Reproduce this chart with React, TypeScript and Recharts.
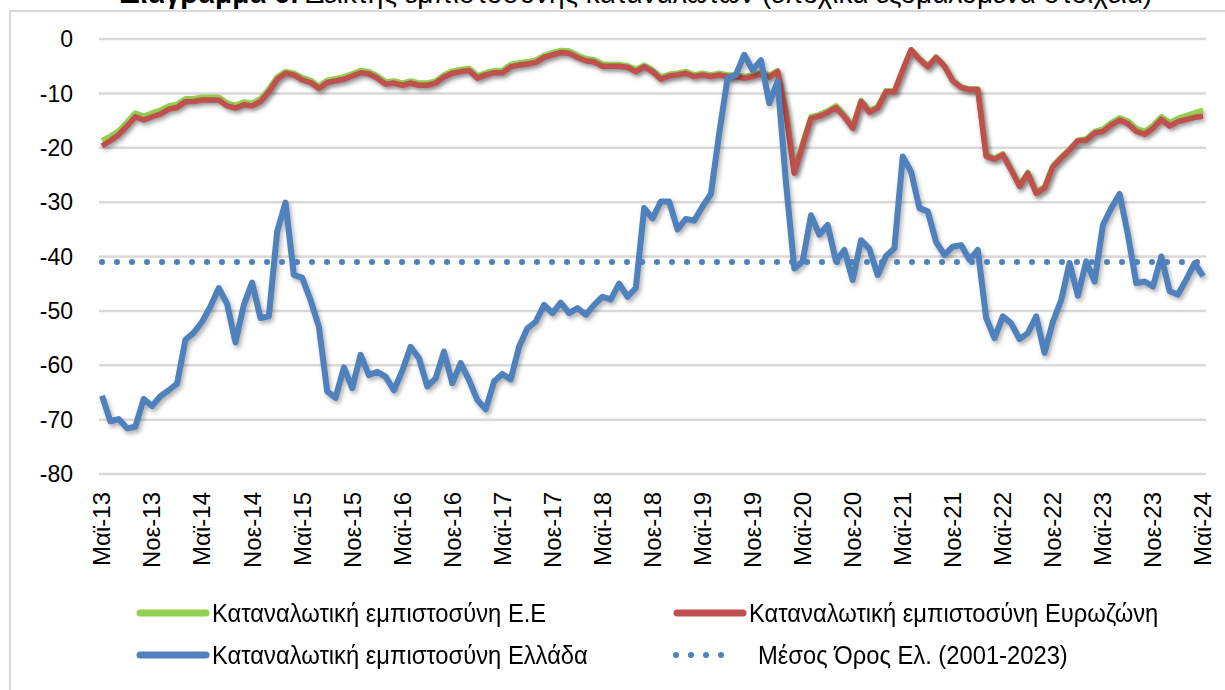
import { LineChart, Line, XAxis, YAxis, CartesianGrid, ReferenceLine } from "recharts"

// Greek month abbreviations, series starts May 2013 (index 4)
const MONTH_NAMES = ["Ιαν", "Φεβ", "Μαρ", "Απρ", "Μαϊ", "Ιουν", "Ιουλ", "Αυγ", "Σεπ", "Οκτ", "Νοε", "Δεκ"]
const START_MONTH = 4
const START_YEAR = 13

// Καταναλωτική εμπιστοσύνη Ε.Ε
const EU = [
  -18.7, -17.9, -16.9, -15.3, -13.6, -14.2, -13.6, -13.1, -12.3, -12.0,
  -11.0, -11.0, -10.7, -10.7, -10.7, -11.8, -12.2, -11.6, -11.8, -11.0,
  -9.2, -7.0, -6.0, -6.3, -7.1, -7.6, -8.7, -7.6, -7.3, -7.0,
  -6.4, -5.8, -6.0, -6.8, -7.9, -7.7, -8.1, -7.7, -8.1, -8.1,
  -7.7, -6.6, -5.9, -5.6, -5.4, -6.8, -6.2, -5.8, -5.8, -4.7,
  -4.4, -4.2, -3.9, -3.0, -2.5, -2.1, -2.2, -3.0, -3.6, -3.8,
  -4.6, -4.7, -4.7, -4.9, -5.6, -4.8, -5.7, -7.0, -6.5, -6.3,
  -6.0, -6.6, -6.3, -6.6, -6.3, -6.6, -6.6, -6.9, -6.6, -6.1,
  -6.7, -5.8, -13.2, -24.3, -19.2, -14.3, -13.9, -13.2, -12.3, -14.0,
  -16.2, -11.3, -13.2, -12.4, -9.5, -9.5, -5.6, -2.0, -3.6, -5.0,
  -3.3, -4.9, -7.6, -8.8, -9.2, -9.2, -21.3, -21.9, -21.1, -23.9,
  -26.9, -24.5, -28.2, -27.2, -23.3, -21.7, -20.3, -18.6, -18.4, -17.0,
  -16.6, -15.4, -14.5, -15.1, -16.5, -17.0, -15.9, -14.3, -15.4, -14.6,
  -14.1, -13.6, -13.1,
]

// Καταναλωτική εμπιστοσύνη Ευρωζώνη
const EUROZONE = [
  -19.7, -18.7, -17.6, -16.0, -14.3, -14.9, -14.3, -13.8, -12.9, -12.6,
  -11.5, -11.5, -11.2, -11.2, -11.2, -12.3, -12.7, -12.1, -12.3, -11.5,
  -9.7, -7.4, -6.3, -6.6, -7.5, -8.0, -9.1, -8.0, -7.7, -7.4,
  -6.8, -6.2, -6.4, -7.2, -8.3, -8.1, -8.5, -8.1, -8.5, -8.5,
  -8.1, -7.0, -6.3, -6.0, -5.8, -7.2, -6.6, -6.2, -6.2, -5.1,
  -4.8, -4.6, -4.3, -3.4, -2.9, -2.5, -2.6, -3.4, -4.0, -4.2,
  -5.0, -5.0, -5.0, -5.2, -6.0, -5.1, -6.0, -7.4, -6.8, -6.6,
  -6.3, -6.9, -6.6, -6.9, -6.6, -6.9, -6.9, -7.2, -6.9, -6.4,
  -7.0, -6.0, -13.7, -24.7, -19.5, -14.6, -14.2, -13.5, -12.6, -14.3,
  -16.4, -11.5, -13.5, -12.7, -9.7, -9.7, -5.7, -2.0, -3.7, -5.1,
  -3.4, -5.0, -7.7, -8.9, -9.3, -9.3, -21.6, -22.1, -21.3, -24.1,
  -27.1, -24.7, -28.4, -27.4, -23.5, -21.9, -20.4, -18.7, -18.6, -17.3,
  -17.0, -15.8, -14.9, -15.6, -17.0, -17.5, -16.4, -14.8, -16.0, -15.2,
  -14.8, -14.4, -14.2,
]

// Καταναλωτική εμπιστοσύνη Ελλάδα
const GREECE = [
  -65.6, -70.3, -69.9, -71.6, -71.3, -66.2, -67.5, -65.7, -64.6, -63.4,
  -55.3, -54.0, -52.0, -49.2, -45.8, -48.7, -55.8, -48.9, -44.8, -51.3,
  -51.0, -35.4, -30.1, -43.4, -43.9, -48.0, -52.9, -64.8, -66.0, -60.4,
  -64.2, -58.1, -61.8, -61.2, -62.1, -64.6, -61.0, -56.6, -58.7, -63.9,
  -62.4, -57.5, -63.3, -59.6, -62.7, -66.4, -68.1, -63.0, -61.6, -62.6,
  -56.6, -53.2, -52.0, -48.9, -50.4, -48.5, -50.4, -49.5, -50.7, -48.9,
  -47.4, -47.9, -45.0, -47.4, -45.8, -31.1, -33.0, -29.9, -29.9, -35.0,
  -33.1, -33.4, -30.8, -28.5, -17.3, -7.2, -6.6, -2.9, -5.7, -3.9,
  -11.8, -7.8, -26.4, -42.2, -40.9, -32.4, -36.0, -34.2, -40.9, -38.8,
  -44.3, -37.0, -38.6, -43.4, -39.9, -38.5, -21.6, -24.4, -31.1, -31.7,
  -37.3, -39.7, -38.2, -37.9, -40.6, -38.8, -51.3, -55.0, -51.0, -52.3,
  -55.2, -54.1, -51.0, -57.7, -52.0, -48.0, -41.2, -47.2, -40.9, -44.6,
  -34.2, -31.1, -28.5, -36.0, -44.9, -44.6, -45.5, -40.0, -46.4, -47.0,
  -44.2, -41.2, -43.6,
]

// Μέσος Όρος Ελ. (2001-2023)
const GREECE_AVG = -41

const Y_TICKS = [0, -10, -20, -30, -40, -50, -60, -70, -80]

const monthLabel = (i: number) => {
  const m = START_MONTH + i
  return `${MONTH_NAMES[m % 12]}-${START_YEAR + Math.floor(m / 12)}`
}

const data = EU.map((v, i) => ({
  month: monthLabel(i),
  eu: v,
  ez: EUROZONE[i],
  gr: GREECE[i],
}))

const GREEN = "#92d050"
const RED = "#c0504d"
const BLUE = "#4f81bd"
const AXIS_FONT = "'Liberation Sans', Arial, sans-serif"
const LABEL_FONT = "'Liberation Sans', Arial, sans-serif"

const MonthTick = ({ x, y, payload }: any) => (
  <text
    x={x}
    y={y}
    transform={`rotate(-90, ${x}, ${y})`}
    textAnchor="end"
    dy="0.35em"
    fontSize={24}
    fontFamily={AXIS_FONT}
    fill="#000"
  >
    {payload.value}
  </text>
)

const legendItems = [
  { label: "Καταναλωτική εμπιστοσύνη Ε.Ε", color: GREEN, dotted: false, left: 136, top: 613 },
  { label: "Καταναλωτική εμπιστοσύνη Ευρωζώνη", color: RED, dotted: false, left: 673, top: 613 },
  { label: "Καταναλωτική εμπιστοσύνη Ελλάδα", color: BLUE, dotted: false, left: 136, top: 655 },
  { label: "Μέσος Όρος Ελ. (2001-2023)", color: BLUE, dotted: true, left: 673, top: 655 },
]

export default function App() {
  return (
    <div style={{ position: "absolute", left: 0, top: 0, width: 1225, height: 690, overflow: "hidden", background: "#fff" }}>
      <style>{`.shadowed path { filter: drop-shadow(2px 3px 2px rgba(0,0,0,0.3)); }`}</style>

      {/* chart border, runs past the window */}
      <div style={{ position: "absolute", left: 9, top: 10, width: 1400, height: 900, border: "2px solid #d9d9d9" }} />

      {/* title, cut off at the top edge like the source */}
      <div
        style={{
          position: "absolute",
          left: 0,
          width: 1272,
          top: -21,
          textAlign: "center",
          fontFamily: LABEL_FONT,
          fontSize: 28,
          lineHeight: "30px",
          whiteSpace: "nowrap",
        }}
      >
        <b>Διάγραμμα 6:</b> Δείκτης εμπιστοσύνης καταναλωτών (εποχικά εξομαλυμένα στοιχεία)
      </div>

      <div style={{ position: "absolute", left: 0, top: 0 }}>
        <LineChart width={1225} height={690} data={data} margin={{ top: 39, right: 19, bottom: 116, left: 39 }}>
          <CartesianGrid vertical={false} stroke="#d9d9d9" strokeWidth={2.5} />
          <XAxis
            dataKey="month"
            interval={5}
            axisLine={false}
            tickLine={false}
            tickSize={0}
            tickMargin={18}
            height={100}
            padding={{ left: 3, right: 3 }}
            tick={<MonthTick />}
          />
          <YAxis
            domain={[-80, 0]}
            ticks={Y_TICKS}
            axisLine={false}
            tickLine={false}
            tickSize={0}
            tickMargin={26}
            width={60}
            tick={{ fontSize: 23, fontFamily: AXIS_FONT, fill: "#000" }}
          />
          <Line className="shadowed" dataKey="eu" stroke={GREEN} strokeWidth={5.5} dot={false} isAnimationActive={false} strokeLinejoin="round" />
          <Line className="shadowed" dataKey="ez" stroke={RED} strokeWidth={5.5} dot={false} isAnimationActive={false} strokeLinejoin="round" />
          <Line className="shadowed" dataKey="gr" stroke={BLUE} strokeWidth={6} dot={false} isAnimationActive={false} strokeLinejoin="round" />
          <ReferenceLine
            segment={[
              { x: data[0].month, y: GREECE_AVG },
              { x: data[data.length - 1].month, y: GREECE_AVG },
            ]}
            stroke={BLUE}
            strokeWidth={6}
            strokeDasharray="0 15"
            strokeLinecap="round"
          />
        </LineChart>
      </div>

      {legendItems.map((it) => (
        <div
          key={it.label}
          style={{
            position: "absolute",
            left: it.left,
            top: it.top - 16,
            height: 32,
            display: "flex",
            alignItems: "center",
            fontFamily: LABEL_FONT,
            fontSize: 25,
            whiteSpace: "nowrap",
          }}
        >
          <svg width={it.dotted ? 83 : 74} height={12} style={{ marginRight: 2 }}>
            {it.dotted ? (
              <line x1={3} y1={6} x2={63} y2={6} stroke={it.color} strokeWidth={6} strokeDasharray="0 15" strokeLinecap="round" />
            ) : (
              <line x1={4} y1={6} x2={70} y2={6} stroke={it.color} strokeWidth={7} strokeLinecap="round" />
            )}
          </svg>
          <span style={{ display: "inline-block", transform: "scaleX(0.95)", transformOrigin: "left center" }}>{it.label}</span>
        </div>
      ))}
    </div>
  )
}
